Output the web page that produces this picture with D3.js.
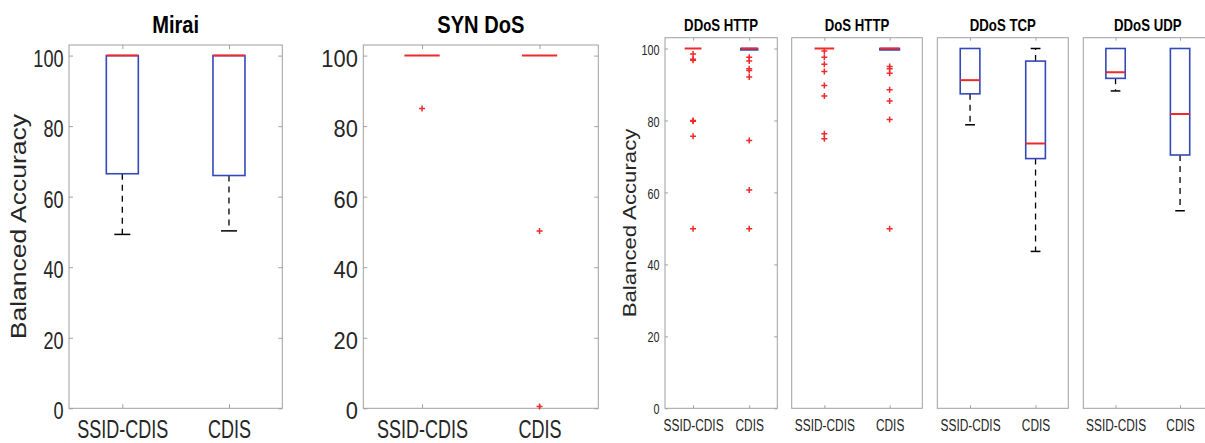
<!DOCTYPE html>
<html>
<head>
<meta charset="utf-8">
<script src="https://cdn.jsdelivr.net/npm/d3@7"></script>
<style>
    body { margin: 0; background: #fff; }
    text { font-family: "Liberation Sans", Arial, sans-serif; fill: #262626; }
</style>
</head>
<body>
<svg id="chart" width="1205" height="443"></svg>
<script>
const groups = ["SSID-CDIS", "CDIS"];
const yTicks = [0, 20, 40, 60, 80, 100];
const yMax = 103;

// box stats: lo/hi = whisker ends, q1/q3 = box, med = red line
const miraiBoxes = [
    { lo: 49.3, q1: 66.5, med: 100, q3: 100, hi: 100, out: [] },
    { lo: 50.3, q1: 66.0, med: 100, q3: 100, hi: 100, out: [] }
];
const synDosBoxes = [
    { lo: 100, q1: 100, med: 100, q3: 100, hi: 100, out: [85.0] },
    { lo: 100, q1: 100, med: 100, q3: 100, hi: 100, out: [50.3, 0.5] }
];
const ddosHttpBoxes = [
    { lo: 100, q1: 100, med: 100, q3: 100, hi: 100, out: [98.5, 97.0, 96.7, 80.0, 79.8, 75.6, 49.9] },
    { lo: 99.6, q1: 99.6, med: 100, q3: 100, hi: 100, out: [97.6, 96.5, 94.4, 93.9, 92.1, 74.4, 60.7, 49.9] }
];
const dosHttpBoxes = [
    { lo: 100, q1: 100, med: 100, q3: 100, hi: 100, out: [99.3, 97.6, 95.6, 93.6, 89.7, 86.8, 76.3, 74.9] },
    { lo: 99.6, q1: 99.6, med: 100, q3: 100, hi: 100, out: [95.0, 94.4, 93.1, 88.5, 85.4, 80.3, 49.9] }
];
const ddosTcpBoxes = [
    { lo: 78.8, q1: 87.4, med: 91.2, q3: 100, hi: 100, out: [] },
    { lo: 43.6, q1: 69.4, med: 73.6, q3: 96.5, hi: 100, out: [] }
];
const ddosUdpBoxes = [
    { lo: 88.2, q1: 91.7, med: 93.4, q3: 100, hi: 100, out: [] },
    { lo: 54.9, q1: 70.4, med: 81.8, q3: 100, hi: 100, out: [] }
];

// text styles: size in px, sx = horizontal squeeze (the original figure is narrow-set)
const big = {
    title: { size: 24.5, sx: 0.82, y: 33.5 },
    tick: { size: 23.5, sx: 0.77, dy: "0.45em" },
    xlab: { size: 25, sx: 0.72, y: 438.5 },
    tickLen: 4, labelSize: 26.5
};
const small = {
    title: { size: 16.5, sx: 0.8, y: 31 },
    tick: { size: 14, sx: 0.77, dy: "0.4em" },
    xlab: { size: 16.5, sx: 0.72, y: 431 },
    tickLen: 3, labelSize: 22.2
};

const panels = [
    { title: "Mirai", boxes: miraiBoxes, left: 69, right: 282.3, top: 45, st: big, yLabels: true, yTickMarks: true, yTitle: { x: 26, y: 226.6 } },
    { title: "SYN DoS", boxes: synDosBoxes, left: 363.3, right: 598.3, top: 45, st: { ...big, tick: { size: 23.5, sx: 0.93, dy: "0.45em" } }, yLabels: true, yTickMarks: true },
    { title: "DDoS HTTP", boxes: ddosHttpBoxes, left: 665, right: 777.3, top: 37.7, st: small, yLabels: true, yTickMarks: true, yTitle: { x: 636, y: 223 } },
    { title: "DoS HTTP", boxes: dosHttpBoxes, left: 791.7, right: 922.3, top: 37.7, st: small, yLabels: false, yTickMarks: false },
    { title: "DDoS TCP", boxes: ddosTcpBoxes, left: 937.3, right: 1068.3, top: 37.7, st: small, yLabels: false, yTickMarks: false },
    { title: "DDoS UDP", boxes: ddosUdpBoxes, left: 1083.3, right: 1212.3, top: 37.7, st: small, yLabels: false, yTickMarks: false }
];

const bottom = 408.3;
const svg = d3.select("#chart");

panels.forEach(p => drawPanel(p));

// squeeze text horizontally around its own anchor
function squeeze(sel, sx) {
    sel.each(function () {
        const t = d3.select(this);
        const x0 = +t.attr("x") || 0;
        t.attr("x", x0 / sx).attr("transform", `scale(${sx},1)`);
    });
}

function drawPanel(p) {
    const st = p.st;
    const g = svg.append("g");
    const x = d3.scalePoint().domain(groups).range([p.left, p.right]).padding(0.5);
    const y = d3.scaleLinear().domain([0, yMax]).range([bottom, p.top]);
    const boxW = x.step() * 0.3;
    const data = p.boxes.map((b, i) => ({ ...b, cat: groups[i] }));

    // axes frame
    g.append("rect")
        .attr("x", p.left).attr("y", p.top)
        .attr("width", p.right - p.left).attr("height", bottom - p.top)
        .attr("fill", "none").attr("stroke", "#a0a0a0").attr("stroke-width", 1);

    const xb = g.append("g").attr("transform", `translate(0,${bottom})`)
        .call(d3.axisBottom(x).tickSizeInner(-st.tickLen).tickSizeOuter(0).tickPadding(0));
    xb.selectAll("text").attr("y", st.xlab.y - bottom).attr("dy", 0)
        .style("font-size", st.xlab.size + "px")
        .call(squeeze, st.xlab.sx);
    g.append("g").attr("transform", `translate(0,${p.top})`)
        .call(d3.axisTop(x).tickSizeInner(-st.tickLen).tickSizeOuter(0).tickFormat(""));

    if (p.yTickMarks) {
        const yl = g.append("g").attr("transform", `translate(${p.left},0)`)
            .call(d3.axisLeft(y).tickValues(yTicks).tickSizeInner(-st.tickLen).tickSizeOuter(0).tickPadding(5.5)
                .tickFormat(p.yLabels ? d3.format("d") : ""));
        yl.selectAll("text").attr("dy", st.tick.dy).style("font-size", st.tick.size + "px")
            .call(squeeze, st.tick.sx);
        g.append("g").attr("transform", `translate(${p.right},0)`)
            .call(d3.axisRight(y).tickValues(yTicks).tickSizeInner(-st.tickLen).tickSizeOuter(0).tickFormat(""));
    }
    g.selectAll(".domain").remove();
    g.selectAll(".tick line").attr("stroke", "#a0a0a0");

    // title
    g.append("text")
        .attr("x", (p.left + p.right) / 2).attr("y", st.title.y)
        .attr("text-anchor", "middle")
        .style("font-size", st.title.size + "px").style("font-weight", "bold")
        .style("fill", "#000")
        .text(p.title)
        .call(squeeze, st.title.sx);

    if (p.yTitle) {
        g.append("text")
            .attr("transform", `translate(${p.yTitle.x},${p.yTitle.y}) scale(0.8,1) rotate(-90)`)
            .attr("text-anchor", "middle")
            .style("font-size", st.labelSize + "px")
            .text("Balanced Accuracy");
    }

    const box = g.selectAll(".box").data(data).enter().append("g").attr("class", "box");
    const cx = d => x(d.cat);

    // whiskers (dashed) with solid caps
    const lower = box.filter(d => d.lo < d.q1);
    lower.append("line")
        .attr("x1", cx).attr("x2", cx)
        .attr("y1", d => y(d.q1)).attr("y2", d => y(d.lo))
        .attr("stroke", "#000").attr("stroke-width", 1.3).attr("stroke-dasharray", "6,5");
    lower.append("line")
        .attr("x1", d => cx(d) - boxW / 4).attr("x2", d => cx(d) + boxW / 4)
        .attr("y1", d => y(d.lo)).attr("y2", d => y(d.lo))
        .attr("stroke", "#000").attr("stroke-width", 1.5);
    const upper = box.filter(d => d.hi > d.q3);
    upper.append("line")
        .attr("x1", cx).attr("x2", cx)
        .attr("y1", d => y(d.q3)).attr("y2", d => y(d.hi))
        .attr("stroke", "#000").attr("stroke-width", 1.3).attr("stroke-dasharray", "6,5");
    upper.append("line")
        .attr("x1", d => cx(d) - boxW / 4).attr("x2", d => cx(d) + boxW / 4)
        .attr("y1", d => y(d.hi)).attr("y2", d => y(d.hi))
        .attr("stroke", "#000").attr("stroke-width", 1.5);

    // box
    box.append("rect")
        .attr("x", d => cx(d) - boxW / 2).attr("width", boxW)
        .attr("y", d => y(d.q3)).attr("height", d => y(d.q1) - y(d.q3))
        .attr("fill", "none").attr("stroke", "#3448b8").attr("stroke-width", 1.6);

    // median
    box.append("line")
        .attr("x1", d => cx(d) - boxW / 2).attr("x2", d => cx(d) + boxW / 2)
        .attr("y1", d => y(d.med)).attr("y2", d => y(d.med))
        .attr("stroke", "#ee2a2a").attr("stroke-width", 2);

    // outliers as red plus markers
    box.each(function (d) {
        const c = cx(d);
        d3.select(this).selectAll(".out").data(d.out).enter().append("path")
            .attr("class", "out")
            .attr("d", v => `M${c - 3},${y(v)}h6M${c},${y(v) - 3}v6`)
            .attr("stroke", "#ee2a2a").attr("stroke-width", 1.5).attr("fill", "none");
    });
}
</script>
</body>
</html>
